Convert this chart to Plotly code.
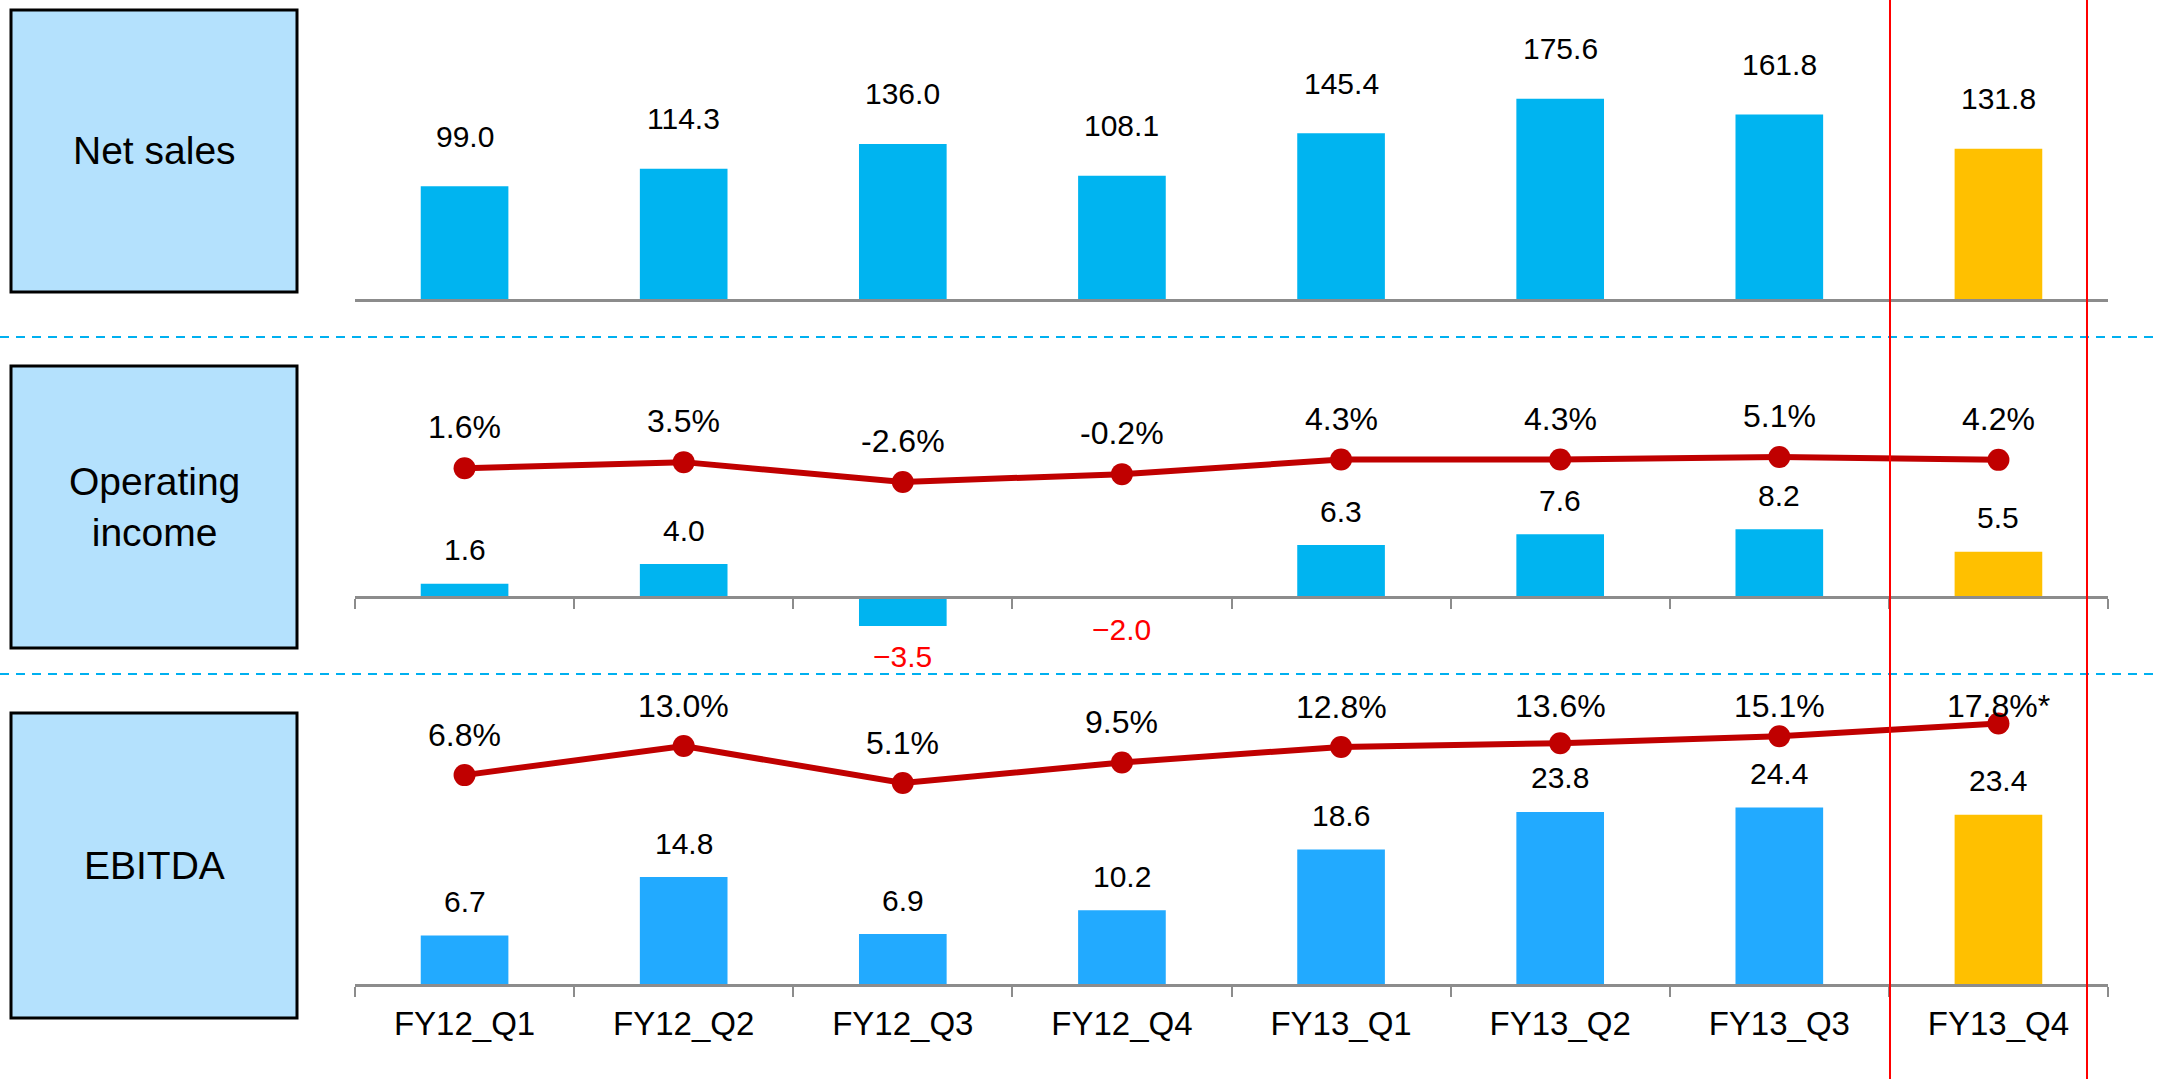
import plotly.graph_objects as go

W, H = 2158, 1079

# ---------------- data ----------------
categories = ["FY12_Q1", "FY12_Q2", "FY12_Q3", "FY12_Q4",
              "FY13_Q1", "FY13_Q2", "FY13_Q3", "FY13_Q4"]
highlight_category = "FY13_Q4"

net_sales = [99.0, 114.3, 136.0, 108.1, 145.4, 175.6, 161.8, 131.8]
net_sales_labels = ["99.0", "114.3", "136.0", "108.1", "145.4", "175.6", "161.8", "131.8"]

op_income = [1.6, 4.0, -3.5, -0.2, 6.3, 7.6, 8.2, 5.5]
op_income_labels = ["1.6", "4.0", "\u22123.5", "\u22122.0", "6.3", "7.6", "8.2", "5.5"]
op_margin = [1.6, 3.5, -2.6, -0.2, 4.3, 4.3, 5.1, 4.2]
op_margin_labels = ["1.6%", "3.5%", "-2.6%", "-0.2%", "4.3%", "4.3%", "5.1%", "4.2%"]

ebitda = [6.7, 14.8, 6.9, 10.2, 18.6, 23.8, 24.4, 23.4]
ebitda_labels = ["6.7", "14.8", "6.9", "10.2", "18.6", "23.8", "24.4", "23.4"]
ebitda_margin = [6.8, 13.0, 5.1, 9.5, 12.8, 13.6, 15.1, 17.8]
ebitda_margin_labels = ["6.8%", "13.0%", "5.1%", "9.5%", "12.8%", "13.6%", "15.1%", "17.8%*"]

panel_titles = ["Net sales", "Operating<br>income", "EBITDA"]

# ---------------- styles ----------------
FONT = "Liberation Sans, Arial, sans-serif"
BLUE = "#00B4F0"
BLUE2 = "#22AAFF"
GOLD = "#FFC000"
LINE_RED = "#C00000"
AXIS_GREY = "#8C8C8C"
BOX_FILL = "#B4E1FD"


def py(px):
    """pixel from top -> paper y"""
    return 1 - px / H


def px_x(px):
    return px / W


def axis_range(zero_px, ppu, top_px, bottom_px):
    return [(zero_px - bottom_px) / ppu, (zero_px - top_px) / ppu]


def colors(base):
    return [GOLD if c == highlight_category else base for c in categories]


X_DOMAIN = [px_x(355), px_x(2108)]

# panel geometry (pixels)
P1 = dict(top=15, bottom=299, zero=299, ppu=1.14)
P2 = dict(top=350, bottom=645, zero=597, ppu=8.25, lzero=473.5, lppu=3.25)
P3 = dict(top=690, bottom=984, zero=984, ppu=7.23, lzero=807, lppu=4.69)

fig = go.Figure()

fig.add_trace(go.Bar(x=categories, y=net_sales, marker=dict(color=colors(BLUE), line_width=0),
                     xaxis="x", yaxis="y", hoverinfo="skip"))
fig.add_trace(go.Bar(x=categories, y=op_income, marker=dict(color=colors(BLUE), line_width=0),
                     xaxis="x2", yaxis="y2", hoverinfo="skip"))
fig.add_trace(go.Scatter(x=categories, y=op_margin, mode="lines+markers",
                         line=dict(color=LINE_RED, width=6),
                         marker=dict(color=LINE_RED, size=22),
                         xaxis="x2", yaxis="y4", cliponaxis=False, hoverinfo="skip"))
fig.add_trace(go.Bar(x=categories, y=ebitda, marker=dict(color=colors(BLUE2), line_width=0),
                     xaxis="x3", yaxis="y3", hoverinfo="skip"))
fig.add_trace(go.Scatter(x=categories, y=ebitda_margin, mode="lines+markers",
                         line=dict(color=LINE_RED, width=6),
                         marker=dict(color=LINE_RED, size=22),
                         xaxis="x3", yaxis="y5", cliponaxis=False, hoverinfo="skip"))

xbase = dict(domain=X_DOMAIN, type="category", showgrid=False, zeroline=False,
             showline=True, linecolor=AXIS_GREY, linewidth=3,
             categoryorder="array", categoryarray=categories)

fig.update_layout(
    width=W, height=H,
    margin=dict(l=0, r=0, t=0, b=0),
    paper_bgcolor="white", plot_bgcolor="rgba(0,0,0,0)",
    showlegend=False, bargap=0.6,
    font=dict(family=FONT, color="black"),
    xaxis=dict(**xbase, anchor="y", ticks="", showticklabels=False),
    yaxis=dict(domain=[py(P1["bottom"]), py(P1["top"])], anchor="x",
               range=axis_range(P1["zero"], P1["ppu"], P1["top"], P1["bottom"]), visible=False),
    xaxis2=dict(**xbase, anchor="free", position=py(P2["zero"]), ticks="outside",
                tickson="boundaries", ticklen=10, tickwidth=2, tickcolor=AXIS_GREY,
                showticklabels=False),
    yaxis2=dict(domain=[py(P2["bottom"]), py(P2["top"])], anchor="x2",
                range=axis_range(P2["zero"], P2["ppu"], P2["top"], P2["bottom"]), visible=False),
    yaxis4=dict(overlaying="y2", anchor="x2",
                range=axis_range(P2["lzero"], P2["lppu"], P2["top"], P2["bottom"]), visible=False),
    xaxis3=dict(**xbase, anchor="y3", ticks="outside", tickson="boundaries", ticklen=10,
                tickwidth=2, tickcolor=AXIS_GREY, showticklabels=True,
                tickfont=dict(size=33, color="black", family=FONT), ticklabelstandoff=8),
    yaxis3=dict(domain=[py(P3["bottom"]), py(P3["top"])], anchor="x3",
                range=axis_range(P3["zero"], P3["ppu"], P3["top"], P3["bottom"]), visible=False),
    yaxis5=dict(overlaying="y3", anchor="x3",
                range=axis_range(P3["lzero"], P3["lppu"], P3["top"], P3["bottom"]), visible=False),
)

ann = []
# net sales labels
for c, v, t in zip(categories, net_sales, net_sales_labels):
    ann.append(dict(x=c, y=v, xref="x", yref="y", text=t, showarrow=False,
                    yshift=50, font=dict(size=30, color="black")))
# operating income labels
for c, v, t in zip(categories, op_income, op_income_labels):
    neg = v < 0
    ann.append(dict(x=c, y=v, xref="x2", yref="y2", text=t, showarrow=False,
                    yshift=-31 if neg else 34,
                    font=dict(size=30, color="#FF0000" if neg else "black")))
for c, v, t in zip(categories, op_margin, op_margin_labels):
    ann.append(dict(x=c, y=v, xref="x2", yref="y4", text=t, showarrow=False,
                    yshift=41, font=dict(size=32, color="black")))
# EBITDA labels
for c, v, t in zip(categories, ebitda, ebitda_labels):
    ann.append(dict(x=c, y=v, xref="x3", yref="y3", text=t, showarrow=False,
                    yshift=34, font=dict(size=30, color="black")))
cap = (P3["lzero"] - 706) / P3["lppu"]
for c, v, t in zip(categories, ebitda_margin, ebitda_margin_labels):
    ann.append(dict(x=c, y=min(v + 40 / P3["lppu"], cap), xref="x3", yref="y5", text=t,
                    showarrow=False, font=dict(size=32, color="black")))

# panel title boxes
boxes = [(10, 292), (366, 648), (713, 1018)]
shapes = []
for (t, b), title in zip(boxes, panel_titles):
    shapes.append(dict(type="rect", xref="paper", yref="paper",
                       x0=px_x(11), x1=px_x(297), y0=py(b), y1=py(t),
                       fillcolor=BOX_FILL, line=dict(color="black", width=3), layer="below"))
    ann.append(dict(x=px_x(154), y=py((t + b) / 2), xref="paper", yref="paper",
                    xanchor="center", yanchor="middle",
                    text=title, showarrow=False, font=dict(size=39, color="black")))

# dashed separators
for ypx in (337, 674):
    shapes.append(dict(type="line", xref="paper", yref="paper", x0=0, x1=1,
                       y0=py(ypx), y1=py(ypx), line=dict(color="#00B0F0", width=2, dash="9px,7px")))
# red highlight frame
for xpx in (1890, 2087):
    shapes.append(dict(type="line", xref="paper", yref="paper", x0=px_x(xpx), x1=px_x(xpx),
                       y0=0, y1=1, line=dict(color="#FF0000", width=2)))

fig.update_layout(annotations=ann, shapes=shapes)
fig.write_html("out.html", config={"displayModeBar": False},
               post_script="document.body.style.margin='0px';document.body.style.padding='0px';")
